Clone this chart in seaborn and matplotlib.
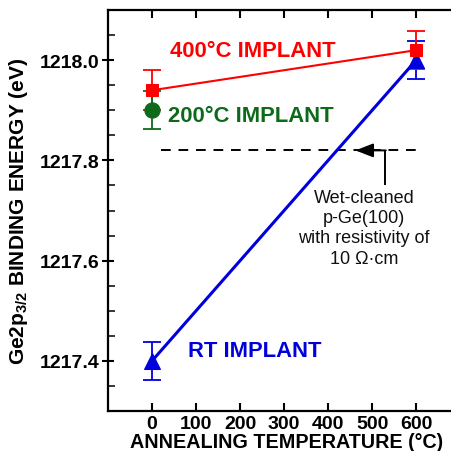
import matplotlib
matplotlib.use("Agg")
import matplotlib.pyplot as plt
import seaborn as sns
import pandas as pd

# Data
series_names = ["RT IMPLANT", "400°C IMPLANT", "200°C IMPLANT"]
rt_temp = [0, 600]
rt_energy = [1217.40, 1218.00]
rt_err = [0.038, 0.038]
t400_temp = [0, 600]
t400_energy = [1217.94, 1218.02]
t400_err = [0.04, 0.038]
t200_temp = [0]
t200_energy = [1217.90]
t200_err = [0.038]
reference_energy = 1217.82
xticks = [0, 100, 200, 300, 400, 500, 600]
yticks = [1217.4, 1217.6, 1217.8, 1218.0]

sns.set_theme(style="ticks")
plt.rcParams['font.family'] = ['Liberation Sans', 'DejaVu Sans']
plt.rcParams['mathtext.default'] = 'regular'

fig = plt.figure(figsize=(4.52, 4.52), dpi=100)
ax = fig.add_axes([0.239, 0.0885, 0.779, 0.887])

colors = {"RT IMPLANT": "#0000dd", "400°C IMPLANT": "#ff0000", "200°C IMPLANT": "#0d6a1a"}
markers = {"RT IMPLANT": "^", "400°C IMPLANT": "s", "200°C IMPLANT": "o"}
msize = {"RT IMPLANT": 11.5, "400°C IMPLANT": 9, "200°C IMPLANT": 11}
lw = {"RT IMPLANT": 2.2, "400°C IMPLANT": 1.5, "200°C IMPLANT": 1.5}

frames = []
for name, t, e, er in [("RT IMPLANT", rt_temp, rt_energy, rt_err),
                       ("400°C IMPLANT", t400_temp, t400_energy, t400_err),
                       ("200°C IMPLANT", t200_temp, t200_energy, t200_err)]:
    frames.append(pd.DataFrame({"temp": t, "energy": e, "err": er, "series": name}))
df = pd.concat(frames, ignore_index=True)

for name in series_names:
    sub = df[df.series == name]
    c = colors[name]
    ax.errorbar(sub.temp, sub.energy, yerr=sub.err, fmt='none', ecolor=c,
                elinewidth=1.3, capsize=6.5, capthick=1.3, zorder=2)
    sns.lineplot(data=sub, x="temp", y="energy", ax=ax, color=c, marker=markers[name],
                 markersize=msize[name], markeredgecolor=c, linewidth=lw[name],
                 legend=False, zorder=3)

# reference dashed line and arrow
ax.hlines(reference_energy, 20, 605, colors='black', linestyles=(0, (5, 4)), linewidth=1.4, zorder=1)
ax.plot([530, 530], [1217.75, reference_energy], color='black', lw=1.4, solid_capstyle='butt')
ax.annotate("", xy=(462, reference_energy), xytext=(531, reference_energy),
            arrowprops=dict(arrowstyle='-|>,head_length=0.9,head_width=0.35', color='black',
                            lw=1.4, shrinkA=0, shrinkB=0))
ax.text(482, 1217.743, "Wet-cleaned\np-Ge(100)\nwith resistivity of\n10 Ω·cm", ha='center', va='top',
        fontsize=13, linespacing=1.25, color='#111111')

# labels
ax.text(40, 1218.02, "400°C IMPLANT", color=colors["400°C IMPLANT"], fontsize=15.8,
        fontweight='bold', ha='left', va='center')
ax.text(36, 1217.89, "200°C IMPLANT", color=colors["200°C IMPLANT"], fontsize=15.8,
        fontweight='bold', ha='left', va='center')
ax.text(82, 1217.421, "RT IMPLANT", color=colors["RT IMPLANT"], fontsize=15.8,
        fontweight='bold', ha='left', va='center')

ax.set_xlim(-100, 700)
ax.set_ylim(1217.3, 1218.1)
ax.set_xticks(xticks)
ax.set_yticks(yticks)
ax.set_yticklabels([f"{v:.1f}" for v in yticks])
ax.set_yticks([1217.35, 1217.45, 1217.5, 1217.55, 1217.65, 1217.7, 1217.75, 1217.85,
               1217.9, 1217.95, 1218.05], minor=True)

for s in ['left', 'top', 'bottom']:
    ax.spines[s].set_linewidth(1.6)
    ax.spines[s].set_color('black')
ax.spines['right'].set_visible(False)

ax.tick_params(axis='x', which='major', direction='in', length=6, width=1.5, top=True,
               labelsize=14, pad=3, colors='black')
ax.tick_params(axis='y', which='major', direction='inout', length=9, width=1.5,
               labelsize=14, pad=2, colors='black')
ax.tick_params(axis='y', which='minor', direction='in', length=5, width=1.3, left=True)
for lab in ax.get_xticklabels() + ax.get_yticklabels():
    lab.set_fontweight('bold')

ax.set_xlabel("ANNEALING TEMPERATURE (°C)", fontsize=14.2, fontweight='bold', color='black')
ax.set_ylabel("Ge2p$_{3/2}$ BINDING ENERGY (eV)", fontsize=15, fontweight='bold', color='black')
ax.xaxis.set_label_coords(0.506, -0.052)
ax.yaxis.set_label_coords(-0.222, 0.5)

fig.savefig("out.png", dpi=100)
